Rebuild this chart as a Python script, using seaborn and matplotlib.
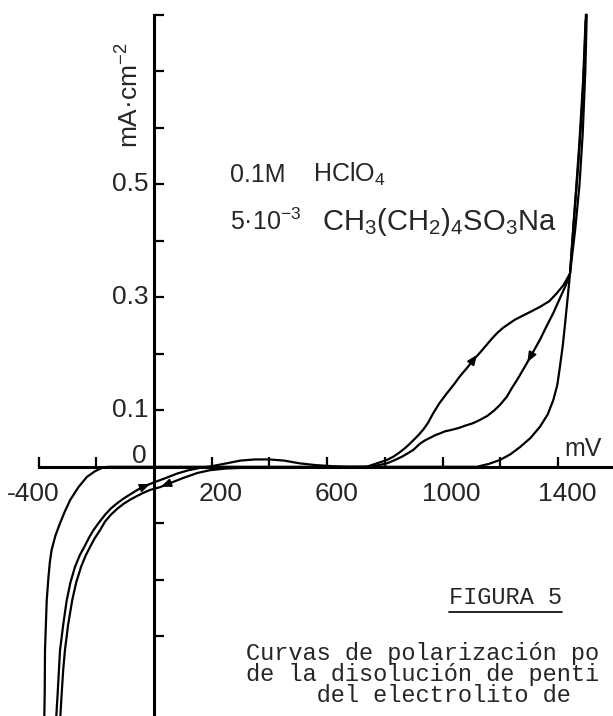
import matplotlib
matplotlib.use("Agg")
import matplotlib.pyplot as plt
from matplotlib.lines import Line2D
from matplotlib.transforms import IdentityTransform
import pandas as pd
import seaborn as sns

# ---------------- data ----------------
# first scan: cathodic branch, along zero current, anodic rise
scan1_mV = [-381, -379, -378, -375, -372, -366, -361, -355, -342, -326, -310, -291, -262, -233, -205,
            -181, -160, 200, 600, 1000, 1119, 1160, 1199, 1235, 1269, 1305, 1338, 1365, 1384, 1398,
            1407, 1417, 1425, 1434, 1442, 1460, 1475, 1486, 1495, 1500]
scan1_i = [-0.46, -0.40, -0.324, -0.28, -0.236, -0.195, -0.168, -0.147, -0.122, -0.100, -0.080,
           -0.059, -0.036, -0.018, -0.008, -0.002, 0.0, 0.0, 0.0, 0.0, 0.0, 0.005, 0.012, 0.022,
           0.035, 0.051, 0.071, 0.093, 0.118, 0.145, 0.177, 0.215, 0.254, 0.30, 0.342, 0.42, 0.50,
           0.59, 0.70, 0.80]

# cyclic scan, anodic (forward) direction
fwd_mV = [-341, -334, -326, -315, -303, -290, -274, -258, -240, -225, -210, -190, -170, -150, -129,
          -105, -80, -58, -37, -17, 3, 40, 80, 120, 159, 200, 250, 300, 350, 400, 450, 506, 560,
          620, 680, 737, 772, 807, 830, 850, 870, 887, 905, 920, 935, 950, 968, 990, 1015, 1040,
          1060, 1085, 1107, 1130, 1150, 1170, 1188, 1210, 1230, 1250, 1269, 1300, 1338, 1370, 1396,
          1420, 1442, 1450, 1460, 1474, 1487, 1496]
fwd_i = [-0.46, -0.40, -0.325, -0.28, -0.237, -0.205, -0.177, -0.157, -0.14, -0.125, -0.112, -0.098,
         -0.085, -0.074, -0.065, -0.056, -0.048, -0.041, -0.035, -0.031, -0.027, -0.02, -0.012,
         -0.006, -0.002, 0.001, 0.006, 0.011, 0.013, 0.013, 0.011, 0.006, 0.003, 0.001, 0.0, 0.0,
         0.006, 0.012, 0.018, 0.025, 0.033, 0.041, 0.050, 0.058, 0.067, 0.078, 0.095, 0.113, 0.130,
         0.146, 0.160, 0.175, 0.189, 0.202, 0.214, 0.226, 0.236, 0.246, 0.253, 0.260, 0.265, 0.273,
         0.283, 0.293, 0.307, 0.322, 0.342, 0.40, 0.47, 0.57, 0.68, 0.79]

# cyclic scan, cathodic (reverse) direction
rev_mV = [1497, 1492, 1482, 1470, 1456, 1442, 1428, 1413, 1398, 1384, 1360, 1338, 1315, 1292, 1275,
          1260, 1240, 1223, 1200, 1180, 1155, 1130, 1105, 1080, 1058, 1037, 1020, 1010, 1000, 991,
          975, 960, 940, 922, 899, 880, 860, 835, 807, 770, 737, 600, 400, 300, 250, 194, 150, 100,
          60, 21, -14, -37, -60, -82, -104, -127, -150, -170, -187, -205, -220, -237, -253, -270,
          -284, -298, -309, -315, -320, -327]
rev_i = [0.80, 0.72, 0.62, 0.53, 0.44, 0.342, 0.322, 0.305, 0.288, 0.272, 0.248, 0.225, 0.204, 0.183,
         0.168, 0.155, 0.139, 0.124, 0.110, 0.100, 0.090, 0.083, 0.077, 0.073, 0.069, 0.066, 0.064,
         0.063, 0.061, 0.059, 0.056, 0.052, 0.047, 0.041, 0.030, 0.024, 0.018, 0.012, 0.006, 0.002,
         0.0, -0.001, -0.002, -0.002, -0.003, -0.006, -0.011, -0.02, -0.028, -0.036, -0.041, -0.046,
         -0.052, -0.058, -0.065, -0.074, -0.085, -0.097, -0.112, -0.126, -0.14, -0.157, -0.177,
         -0.205, -0.237, -0.28, -0.325, -0.36, -0.40, -0.46]

xtick_values = [-400, -200, 200, 400, 600, 800, 1000, 1200, 1400]
xlabel_values = [-400, 200, 600, 1000, 1400]
xtick_labels = ["-400", "200", "600", "1000", "1400"]
ytick_values = [-0.3, -0.2, -0.1, 0.1, 0.2, 0.3, 0.4, 0.5, 0.6, 0.7, 0.8]
ylabel_values = [0.1, 0.3, 0.5]
ytick_labels = ["0.1", "0.3", "0.5"]

# ---------------- style ----------------
sns.set_style("white")
plt.rcParams["font.family"] = ["Liberation Sans", "DejaVu Sans"]
plt.rcParams["mathtext.fontset"] = "custom"
plt.rcParams["mathtext.rm"] = "Liberation Sans"
plt.rcParams["mathtext.it"] = "Liberation Sans"
plt.rcParams["mathtext.bf"] = "Liberation Sans"

fig = plt.figure(figsize=(6.13, 7.16), dpi=100)
ax = fig.add_axes([0, 0, 1, 1])
ax.set_facecolor("white")

df = pd.concat([
    pd.DataFrame({"mV": scan1_mV, "i": scan1_i, "curve": "scan1"}),
    pd.DataFrame({"mV": fwd_mV, "i": fwd_i, "curve": "fwd"}),
    pd.DataFrame({"mV": rev_mV, "i": rev_i, "curve": "rev"}),
], ignore_index=True)

sns.lineplot(data=df, x="mV", y="i", units="curve", estimator=None, sort=False,
             color="black", lw=1.6, ax=ax, legend=False)

ax.set_xlim(-534, 1591)
ax.set_ylim(-0.441, 0.826)

# axes through the origin
for s in ["top", "right"]:
    ax.spines[s].set_visible(False)
ax.spines["left"].set_position(("data", 0))
ax.spines["bottom"].set_position(("data", 0))
ax.spines["left"].set_bounds(-0.45, 0.8)
ax.spines["bottom"].set_bounds(-400, 1600)
for s in ["left", "bottom"]:
    ax.spines[s].set_linewidth(2.2)
    ax.spines[s].set_color("black")
ax.set_xticks(xtick_values)
ax.set_yticks(ytick_values)
ax.tick_params(axis="both", direction="in", length=7, width=1.6, color="black",
               labelbottom=False, labelleft=False, bottom=True, left=True)
ax.set_xlabel("")
ax.set_ylabel("")

# tick labels (hand lettered, slightly offset to the right)
for v, lab in zip(xlabel_values, xtick_labels):
    off = -20 if v < 0 else 32
    ax.text(v + off, -0.048, lab, ha="center", va="center", fontsize=19)
for v, lab in zip(ylabel_values, ytick_labels):
    ax.text(-20, v, lab, ha="right", va="center", fontsize=19)
ax.text(-24, 0.019, "0", ha="right", va="center", fontsize=19)

ax.text(1487, 0.031, "mV", ha="center", va="center", fontsize=18)
ax.text(-83, 0.658, "mA·cm$^{-2}$", ha="center", va="center", rotation=90, fontsize=19)

ax.text(263, 0.504, "0.1M", ha="left", va="baseline", fontsize=18)
ax.text(551, 0.504, "HClO$_4$", ha="left", va="baseline", fontsize=18)
ax.text(263, 0.419, "5·10$^{-3}$", ha="left", va="baseline", fontsize=18)
ax.text(582, 0.419, "CH$_3$(CH$_2$)$_4$SO$_3$Na", ha="left", va="baseline", fontsize=21)

# direction arrows
arrow_kw = dict(arrowstyle="-|>,head_length=0.6,head_width=0.25", color="black", lw=1.2)
ax.annotate("", xy=(1125, 0.202), xytext=(1095, 0.181), arrowprops=arrow_kw)
ax.annotate("", xy=(1290, 0.181), xytext=(1318, 0.207), arrowprops=arrow_kw)
ax.annotate("", xy=(-5, -0.029), xytext=(-45, -0.037), arrowprops=arrow_kw)
ax.annotate("", xy=(15, -0.037), xytext=(60, -0.028), arrowprops=arrow_kw)

# caption
mono = ["Liberation Mono", "DejaVu Sans Mono"]
fig_title = fig.text(449 / 613, 1 - 598 / 716, "FIGURA 5", family=mono, fontsize=17,
                     ha="left", va="center")
fig.text(246 / 613, 1 - 642 / 716,
         "Curvas de polarización po\nde la disolución de penti\n     del electrolito de",
         family=mono, fontsize=17, ha="left", va="top", linespacing=0.88)

fig.canvas.draw()
bb = fig_title.get_window_extent()
fig.add_artist(Line2D([bb.x0, bb.x1], [bb.y0 - 2, bb.y0 - 2], transform=IdentityTransform(),
                      color="black", lw=1.2))

fig.savefig("out.png", dpi=100, facecolor="white")
